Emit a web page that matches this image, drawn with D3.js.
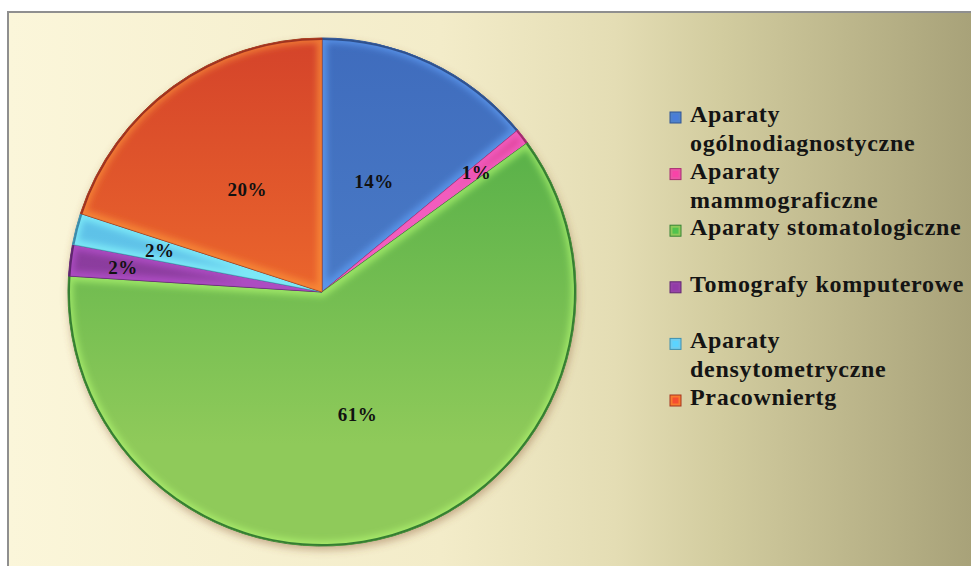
<!DOCTYPE html>
<html>
<head>
<meta charset="utf-8">
<script src="https://cdn.jsdelivr.net/npm/d3@7"></script>
<style>
  html, body { margin: 0; padding: 0; background: #fff; }
  svg { display: block; }
</style>
</head>
<body>
<div id="chart"></div>
<script>
const categories = [
  ['Aparaty', 'ogólnodiagnostyczne'],
  ['Aparaty', 'mammograficzne'],
  ['Aparaty stomatologiczne'],
  ['Tomografy komputerowe'],
  ['Aparaty', 'densytometryczne'],
  ['Pracowniertg']
];
const values = [14, 1, 61, 2, 2, 20];
const labels = ['14%', '1%', '61%', '2%', '2%', '20%'];

// top and bottom colour of each slice
const colorsTop = ['#3f6cbd', '#d83a92', '#46a843', '#7f3392', '#4fb8e2', '#d4432a'];
const colorsBottom = ['#4f82cb', '#ea55a6', '#8fca5a', '#9644a8', '#6fcdef', '#f87a2e'];

const width = 971;
const height = 566;
const cx = 322;
const cy = 292;
const radius = 254;
const serif = "'Liberation Serif', 'Times New Roman', serif";

// label distance from centre, as a share of the radius
const labelRadius = [0.48, 0.77, 0.5, 0.79, 0.66, 0.5];

let svg = d3.select('#chart').append('svg')
  .attr('width', width)
  .attr('height', height)

let defs = svg.append('defs')

let bg = defs.append('linearGradient')
  .attr('id', 'bg')
  .attr('gradientUnits', 'userSpaceOnUse')
  .attr('x1', 8).attr('x2', width).attr('y1', 0).attr('y2', 0)

const bgStops = [[0, '#fbf6da'], [0.45, '#f3ecc9'], [0.63, '#e4ddb4'], [0.74, '#d2cc9f'], [1, '#a8a279']];
bgStops.forEach(s => bg.append('stop').attr('offset', s[0]).attr('stop-color', s[1]))

let shadow = defs.append('filter')
  .attr('id', 'shadow')
  .attr('x', '-10%').attr('y', '-10%').attr('width', '120%').attr('height', '120%')

shadow.append('feDropShadow')
  .attr('dx', 1).attr('dy', 4).attr('stdDeviation', 4)
  .attr('flood-color', '#8a5630').attr('flood-opacity', 0.45)

defs.append('filter')
  .attr('id', 'soft')
  .append('feGaussianBlur')
  .attr('stdDeviation', 3)

svg.append('rect')
  .attr('x', 8).attr('y', 12)
  .attr('width', width).attr('height', height)
  .attr('fill', 'url(#bg)')
  .attr('stroke', '#8f8f8f')
  .attr('stroke-width', 2)

let pie = d3.pie().sort(null).value(d => d)
let arcs = pie(values)

let arc = d3.arc().innerRadius(0).outerRadius(radius)

values.forEach((v, i) => {
  let g = defs.append('linearGradient')
    .attr('id', `slice${i}`)
    .attr('gradientUnits', 'userSpaceOnUse')
    .attr('x1', 0).attr('x2', 0)
    .attr('y1', -radius).attr('y2', radius * 0.6)
  g.append('stop').attr('offset', 0).attr('stop-color', colorsTop[i])
  g.append('stop').attr('offset', 1).attr('stop-color', colorsBottom[i])

  defs.append('clipPath')
    .attr('id', `clip${i}`)
    .append('path')
    .attr('d', arc(arcs[i]))
})

let content = svg.append('g')
  .attr('transform', `translate(${cx}, ${cy})`)

content.append('circle')
  .attr('r', radius)
  .attr('fill', '#6a9a40')
  .attr('filter', 'url(#shadow)')

let slices = content.selectAll('g.slice').data(arcs)
  .enter().append('g')
  .classed('slice', true)

slices.append('path')
  .attr('d', arc)
  .attr('fill', (d, i) => `url(#slice${i})`)
  .attr('stroke', (d, i) => d3.color(colorsTop[i]).darker(0.9))
  .attr('stroke-width', 1)

// bevel: light inner edge and dark rim
slices.append('g')
  .attr('clip-path', (d, i) => `url(#clip${i})`)
  .append('path')
    .attr('d', arc)
    .attr('fill', 'none')
    .attr('stroke', (d, i) => d3.color(colorsBottom[i]).brighter(0.7))
    .attr('stroke-width', 10)
    .attr('stroke-opacity', 0.6)
    .attr('filter', 'url(#soft)')

slices.append('path')
  .attr('d', d => d3.arc().innerRadius(radius - 2).outerRadius(radius)(d))
  .attr('fill', (d, i) => d3.color(colorsTop[i]).darker(0.8))

content.selectAll('text.label').data(arcs)
  .enter().append('text')
  .classed('label', true)
  .attr('transform', (d, i) => {
    let r = radius * labelRadius[i];
    let c = d3.arc().innerRadius(r).outerRadius(r).centroid(d);
    return `translate(${c[0]}, ${c[1]})`;
  })
  .attr('text-anchor', 'middle')
  .attr('dy', '0.35em')
  .style('font-family', serif)
  .style('font-weight', 'bold')
  .style('font-size', '19px')
  .style('letter-spacing', '0.5px')
  .style('fill', '#111')
  .text((d, i) => labels[i])

const legendX = 670;
const legendY = 122;
const entryStep = 56.6;
const lineStep = 29;

let legend = svg.append('g')
  .attr('transform', `translate(${legendX}, ${legendY})`)

let entries = legend.selectAll('g.entry').data(categories)
  .enter().append('g')
  .classed('entry', true)
  .attr('transform', (d, i) => `translate(0, ${i * entryStep})`)

entries.append('rect')
  .attr('x', 0)
  .attr('y', -10)
  .attr('width', 11)
  .attr('height', 11)
  .attr('fill', (d, i) => colorsBottom[i])
  .attr('stroke', (d, i) => d3.color(colorsTop[i]).darker(0.7))
  .attr('stroke-width', 1)

entries.append('rect')
  .attr('x', 2.5)
  .attr('y', -7.5)
  .attr('width', 6)
  .attr('height', 6)
  .attr('fill', (d, i) => d3.color(colorsTop[i]).brighter(0.4))

entries.each(function (d) {
  let t = d3.select(this).append('text')
    .attr('x', 20)
    .style('font-family', serif)
    .style('font-weight', 'bold')
    .style('font-size', '24px')
    .style('letter-spacing', '0.7px')
    .style('fill', '#141414')
  d.forEach((line, j) => {
    t.append('tspan')
      .attr('x', 20)
      .attr('y', j * lineStep)
      .text(line)
  })
})
</script>
</body>
</html>
